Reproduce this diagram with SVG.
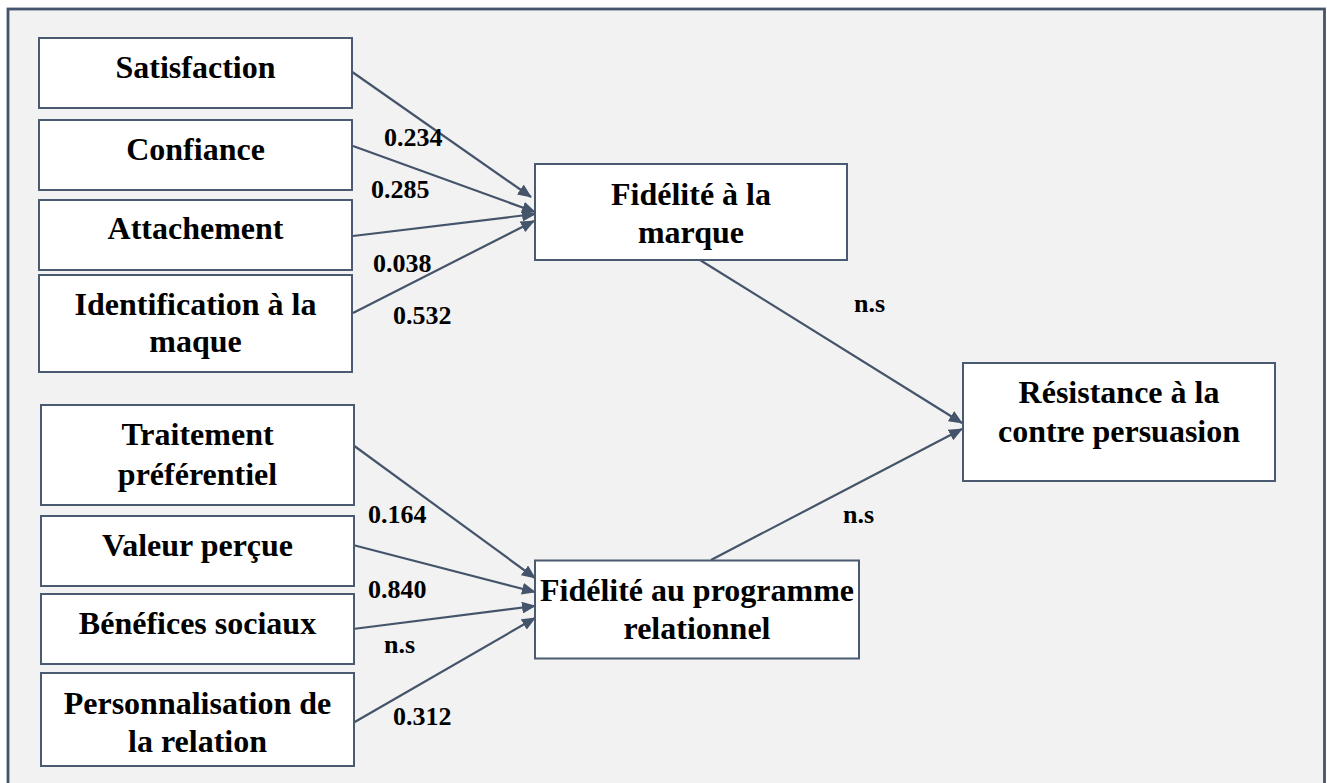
<svg xmlns="http://www.w3.org/2000/svg" width="1327" height="783" viewBox="0 0 1327 783">
<style>
.box{fill:#ffffff;stroke:#4a5a70;stroke-width:2}
.t{font-family:'Liberation Serif',Tinos,'Times New Roman','DejaVu Serif',serif;font-weight:700;font-size:32px;fill:#000;text-anchor:middle}
.l{font-family:'Liberation Serif',Tinos,'Times New Roman','DejaVu Serif',serif;font-weight:700;font-size:26px;fill:#000}
.c{stroke:#44546a;stroke-width:2.2;fill:none;marker-end:url(#ah)}
</style>
<defs>
<marker id="ah" viewBox="0 0 14 12" refX="13" refY="6" markerWidth="14" markerHeight="12" markerUnits="userSpaceOnUse" orient="auto">
<path d="M0,0 L14,6 L0,12 Z" fill="#44546a"/>
</marker>
</defs>
<rect x="8" y="9" width="1316.5" height="790" fill="#f2f2f2" stroke="#44546a" stroke-width="2.8"/>
<g id="connectors">
<line class="c" x1="348" y1="69" x2="531" y2="197"/>
<line class="c" x1="353" y1="146" x2="535" y2="212"/>
<line class="c" x1="353" y1="236" x2="535" y2="214"/>
<line class="c" x1="353" y1="313" x2="534" y2="221"/>
<line class="c" x1="700" y1="260" x2="962" y2="423"/>
<line class="c" x1="711" y1="560" x2="962" y2="429"/>
<line class="c" x1="353" y1="445" x2="535" y2="578"/>
<line class="c" x1="353" y1="545" x2="535" y2="592"/>
<line class="c" x1="353" y1="629" x2="535" y2="606"/>
<line class="c" x1="353" y1="723" x2="535" y2="618"/>
</g>
<g id="labels">
<text class="l" x="384" y="146" font-family="Liberation Serif">0.234</text>
<text class="l" x="371" y="198">0.285</text>
<text class="l" x="373" y="272">0.038</text>
<text class="l" x="393" y="324">0.532</text>
<text class="l" x="854" y="312">n.s</text>
<text class="l" x="843" y="523">n.s</text>
<text class="l" x="368" y="523">0.164</text>
<text class="l" x="368" y="598">0.840</text>
<text class="l" x="384" y="653">n.s</text>
<text class="l" x="393" y="725">0.312</text>
</g>
<g id="satisfaction"><rect class="box" x="39" y="38" width="313" height="70"/><text class="t" x="195.5" y="78">Satisfaction</text></g>
<g id="confiance"><rect class="box" x="39" y="120" width="313" height="70"/><text class="t" x="195.5" y="160">Confiance</text></g>
<g id="attachement"><rect class="box" x="39" y="200" width="313" height="70"/><text class="t" x="195.5" y="239">Attachement</text></g>
<g id="identification"><rect class="box" x="39" y="275" width="313" height="97"/><text class="t" x="195.5" y="315">Identification à la</text><text class="t" x="195.5" y="352">maque</text></g>
<g id="traitement"><rect class="box" x="41" y="405" width="313" height="100"/><text class="t" x="197.5" y="445">Traitement</text><text class="t" x="197.5" y="485">préférentiel</text></g>
<g id="valeur"><rect class="box" x="41" y="516" width="313" height="70"/><text class="t" x="197.5" y="556">Valeur perçue</text></g>
<g id="benefices"><rect class="box" x="41" y="594" width="313" height="70"/><text class="t" x="197.5" y="634">Bénéfices sociaux</text></g>
<g id="personnalisation"><rect class="box" x="41" y="673" width="313" height="93"/><text class="t" x="197.5" y="714">Personnalisation de</text><text class="t" x="197.5" y="752">la relation</text></g>
<g id="fidelite-marque"><rect class="box" x="535" y="164" width="312" height="96"/><text class="t" x="691" y="205">Fidélité à la</text><text class="t" x="691" y="243">marque</text></g>
<g id="fidelite-programme"><rect class="box" x="535" y="560.5" width="324" height="98"/><text class="t" x="697" y="601">Fidélité au programme</text><text class="t" x="697" y="639">relationnel</text></g>
<g id="resistance"><rect class="box" x="963" y="363" width="312" height="118"/><text class="t" x="1119" y="403">Résistance à la</text><text class="t" x="1119" y="442">contre persuasion</text></g>
</svg>
